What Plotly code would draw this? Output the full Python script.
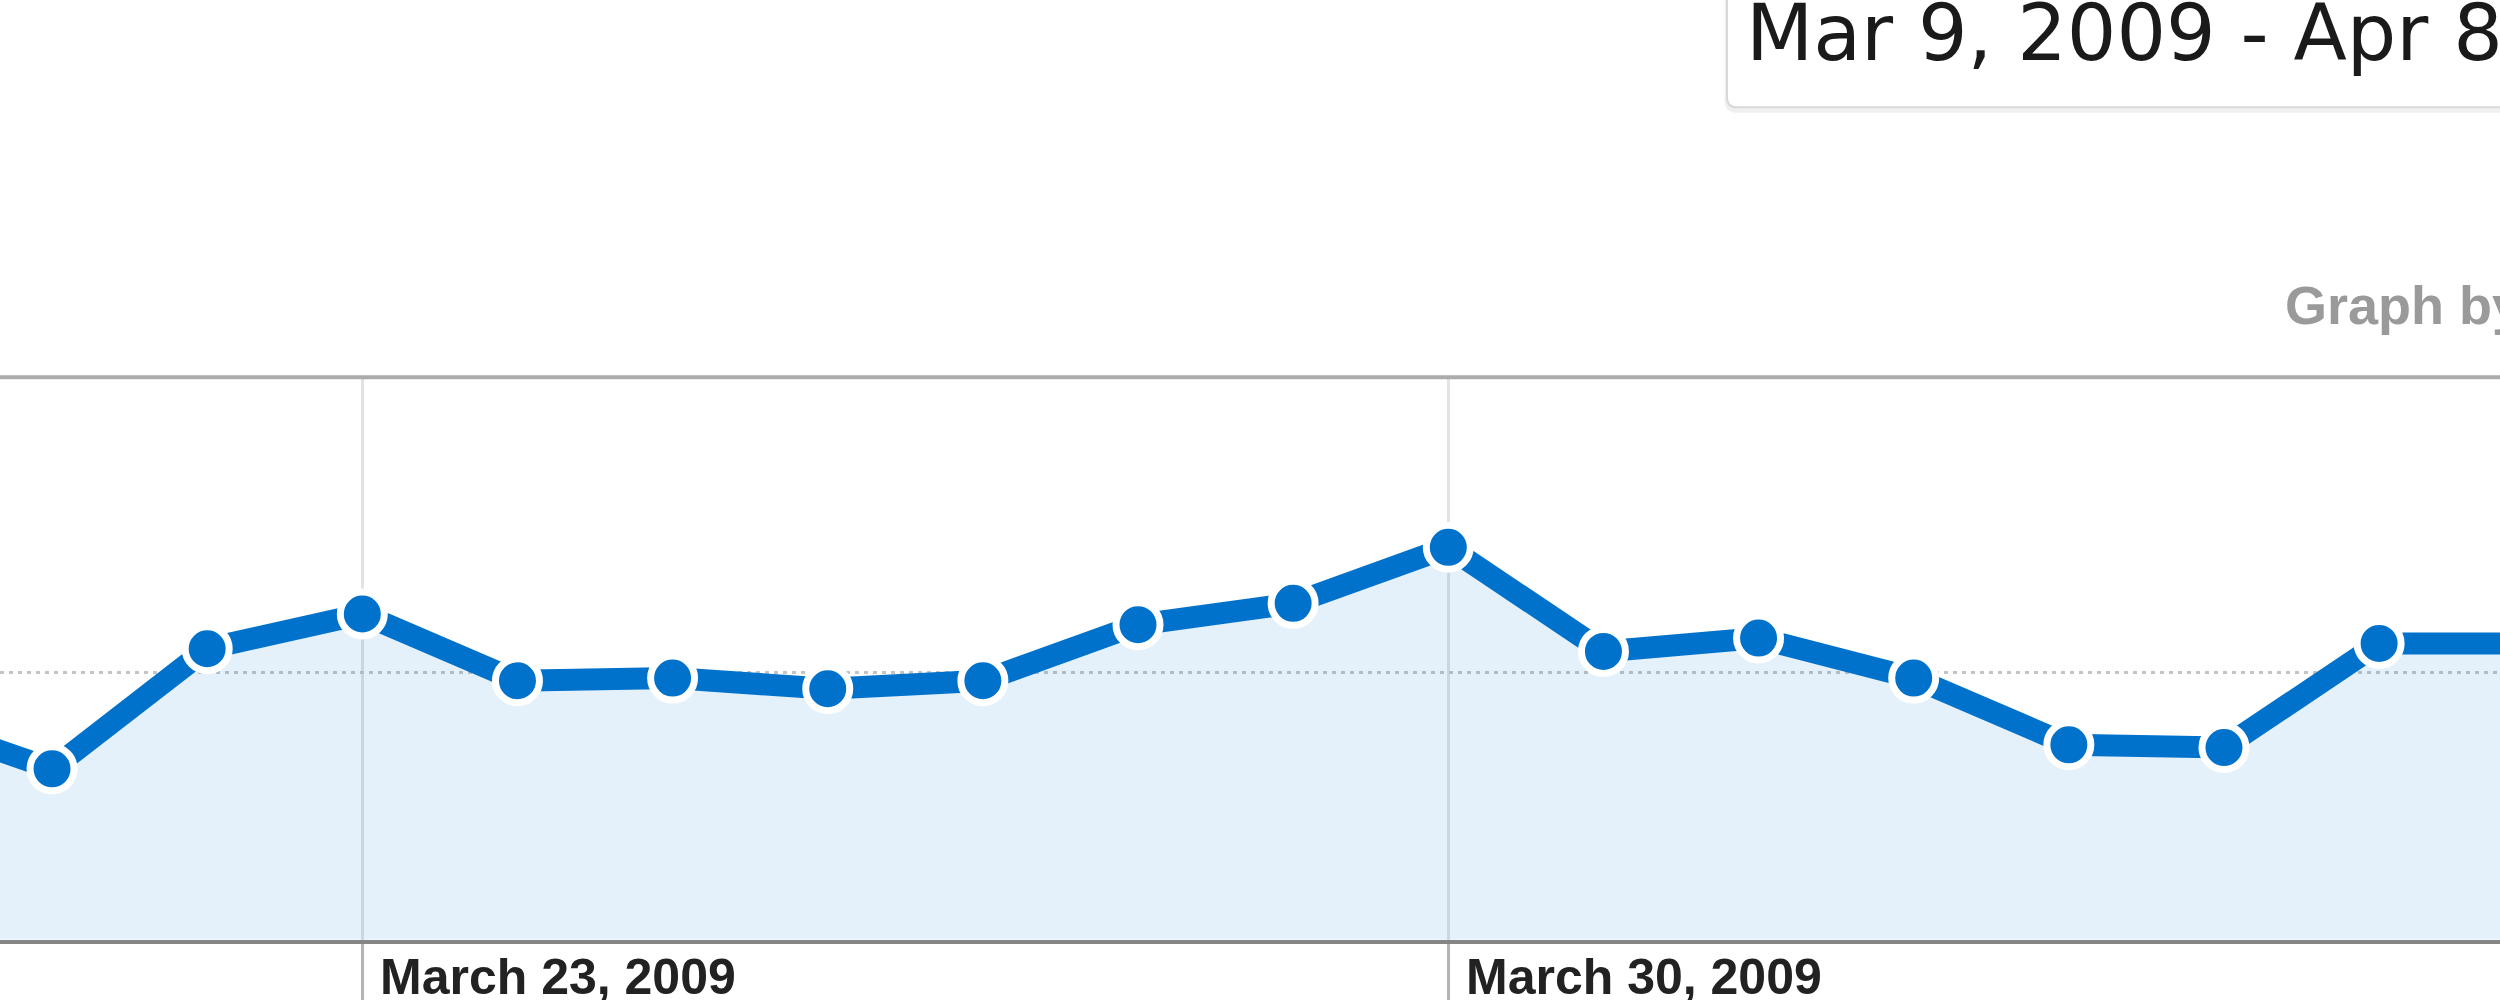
import plotly.graph_objects as go

# ---- data (arbitrary units, dotted gridline = 100) ----
dates = ["2009-03-20", "2009-03-21", "2009-03-22", "2009-03-23", "2009-03-24",
         "2009-03-25", "2009-03-26", "2009-03-27", "2009-03-28", "2009-03-29",
         "2009-03-30", "2009-03-31", "2009-04-01", "2009-04-02", "2009-04-03",
         "2009-04-04", "2009-04-05", "2009-04-06"]
visits = [84, 64, 109, 122, 97, 98, 94, 97, 118, 126,
          147, 108, 113, 98, 73, 72, 111, 111]

tick_dates = ["2009-03-23", "2009-03-30"]
tick_labels = ["March 23, 2009", "March 30, 2009"]
grid_values = [100]

date_range_text = "Mar 9, 2009 - Apr 8, 2009"
graph_by_text = "Graph by:"

# ---- figure ----
W, H = 2500, 1000
y_bottom_px, y_top_px = 954, 383
grid_px = 271  # pixels from bottom to the dotted gridline (value 100)
dom = [(H - y_bottom_px) / H, (H - y_top_px) / H]
y_max = (y_bottom_px - y_top_px) / grid_px * grid_values[0]

fig = go.Figure()
fig.add_trace(go.Scatter(
    x=dates, y=visits,
    mode="lines+markers",
    line=dict(color="#0072cc", width=22),
    marker=dict(size=44, color="#0072cc", line=dict(color="white", width=7)),
    fill="tozeroy",
    fillcolor="rgba(0,120,210,0.10)",
    hoverinfo="skip",
))

fig.update_layout(
    width=W, height=H,
    margin=dict(l=0, r=0, t=0, b=0),
    paper_bgcolor="white",
    plot_bgcolor="white",
    showlegend=False,
    xaxis=dict(
        type="date",
        range=["2009-03-20 15:57", "2009-04-05 18:42"],
        tickvals=tick_dates,
        showticklabels=False,
        ticks="outside", ticklen=60, tickwidth=3, tickcolor="#b4b4b4",
        showgrid=True, gridcolor="#e2e2e2", gridwidth=3,
        showline=True, linecolor="#858585", linewidth=4,
        zeroline=False, fixedrange=True,
    ),
    yaxis=dict(
        domain=dom,
        range=[0, y_max],
        tickvals=grid_values,
        showticklabels=False,
        showgrid=True, gridcolor="#c4c4c4", gridwidth=3, griddash="4px,5px",
        zeroline=False, showline=False, fixedrange=True,
    ),
)

# top border of the graph
fig.add_shape(type="line", xref="paper", yref="paper",
              x0=0, x1=1, y0=dom[1], y1=dom[1],
              line=dict(color="#ababab", width=4))

# tick labels, left aligned right of the tick
for d, t in zip(tick_dates, tick_labels):
    fig.add_annotation(x=d, xref="x", y=0.008, yref="paper",
                       text=t, showarrow=False, xanchor="left", yanchor="middle",
                       xshift=16,
                       font=dict(family="Liberation Sans, Arial", size=50,
                                 color="#222222", weight="bold"))

# date range box (rounded corner, cut by the page edge)
x0 = 1727 / W
y0 = 1 - 109 / H
rx, ry = 10 / W, 10 / H
sh = 3 / H
fig.add_shape(type="path", xref="paper", yref="paper",
              path=f"M {x0},{1.2} L {x0},{y0 - sh + ry} Q {x0},{y0 - sh} {x0 + rx},{y0 - sh} L 1.2,{y0 - sh} L 1.2,1.2 Z",
              line=dict(color="rgba(0,0,0,0.06)", width=5), fillcolor="rgba(0,0,0,0)")
fig.add_shape(type="path", xref="paper", yref="paper",
              path=f"M {x0},{1.2} L {x0},{y0 + ry} Q {x0},{y0} {x0 + rx},{y0} L 1.2,{y0} L 1.2,1.2 Z",
              line=dict(color="#d9d9d9", width=2), fillcolor="white")

fig.add_annotation(x=1744 / W, xref="paper", y=1 - 34 / H, yref="paper",
                   text=date_range_text, showarrow=False,
                   xanchor="left", yanchor="middle",
                   font=dict(family="DejaVu Sans", size=78, color="#1a1a1a"))

fig.add_annotation(x=2283 / W, xref="paper", y=1 - 310 / H, yref="paper",
                   text=graph_by_text, showarrow=False,
                   xanchor="left", yanchor="middle",
                   font=dict(family="Liberation Sans, Arial", size=54,
                             color="#9a9a9a", weight="bold"))

fig.write_html("out.html", config={"displayModeBar": False},
               post_script="document.body.style.margin='0';document.body.style.overflow='hidden';")
